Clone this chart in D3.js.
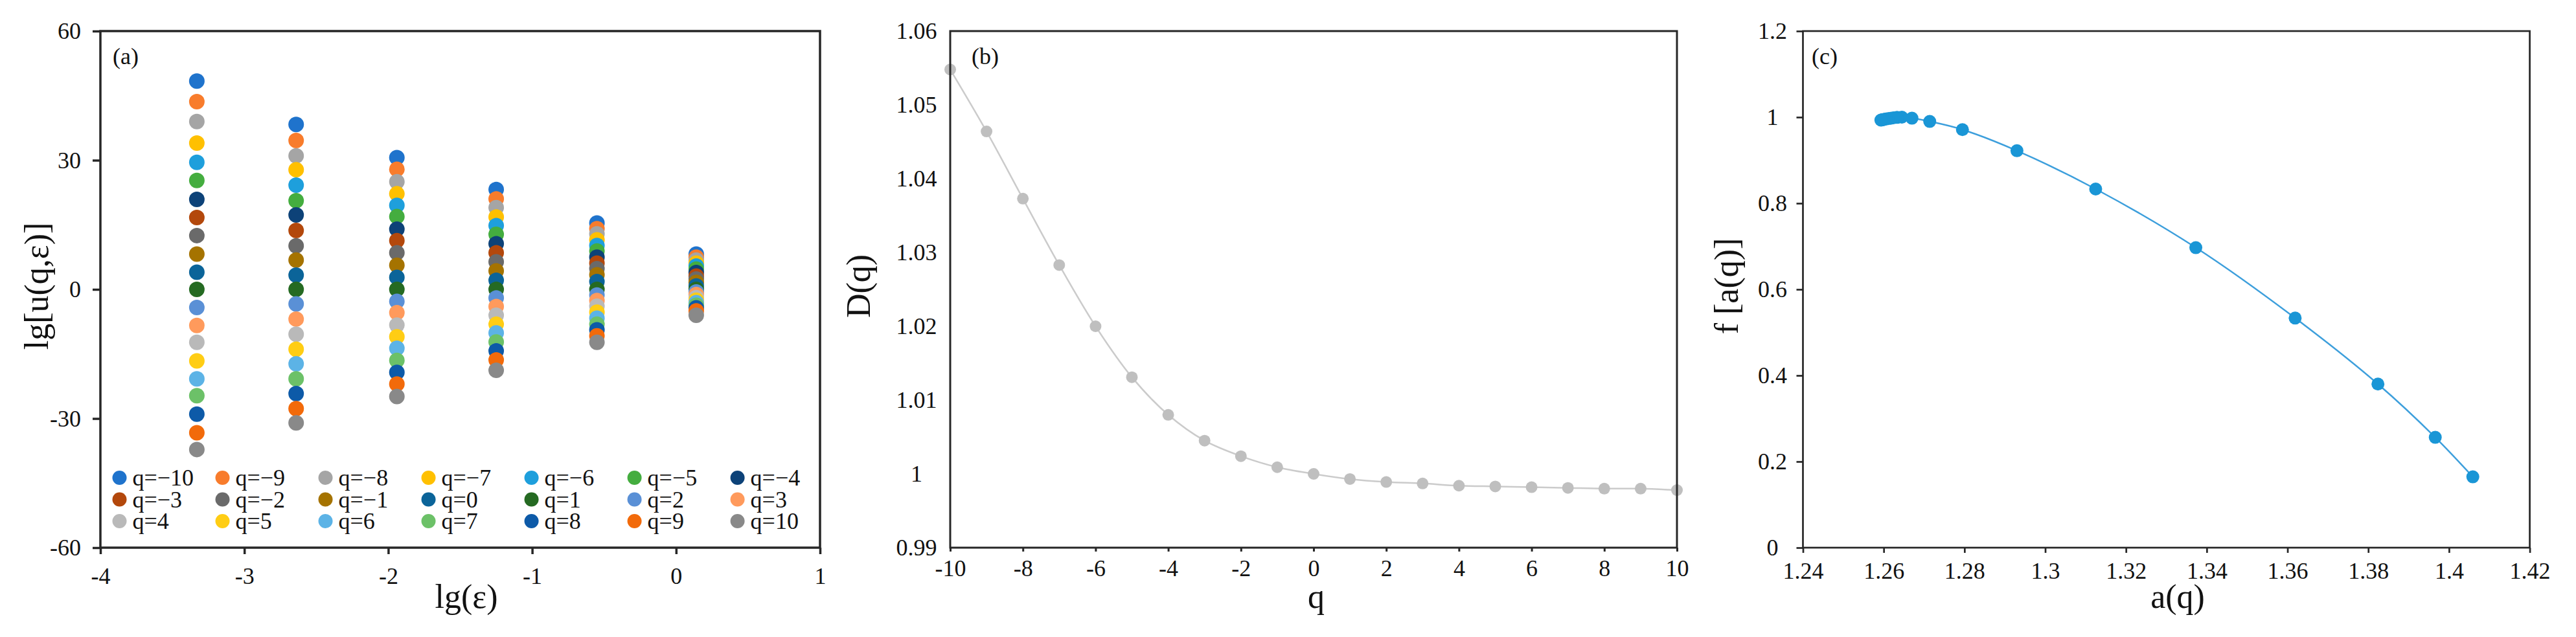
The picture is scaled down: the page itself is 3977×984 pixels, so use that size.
<!DOCTYPE html>
<html>
<head>
<meta charset="utf-8">
<script src="https://cdn.jsdelivr.net/npm/d3@7"></script>
<style>
  html, body { margin: 0; padding: 0; background: #fff; }
  svg { display: block; font-family: "Liberation Serif", "Times New Roman", serif; }
</style>
</head>
<body>
<svg id="chart" width="3977" height="984"></svg>
<script>
// ---- data ----
const qList = [-10, -9, -8, -7, -6, -5, -4, -3, -2, -1, 0, 1, 2, 3, 4, 5, 6, 7, 8, 9, 10];

// panel (a): lg(eps) columns and lg[u(q,eps)] for q = -10..10 in each column
const lgEps = [-3.33, -2.64, -1.94, -1.25, -0.55, 0.14];
const lgMu = [
  [48.4, 43.6, 39.0, 34.0, 29.5, 25.3, 20.9, 16.7, 12.5, 8.2, 4.0, 0, -4.2, -8.4, -12.3, -16.6, -20.8, -24.7, -29.0, -33.3, -37.2],
  [38.3, 34.6, 31.0, 27.8, 24.2, 20.6, 17.3, 13.7, 10.1, 6.8, 3.3, 0, -3.4, -6.9, -10.4, -13.9, -17.3, -20.8, -24.2, -27.7, -31.0],
  [30.6, 27.9, 25.0, 22.2, 19.5, 16.9, 14.0, 11.3, 8.5, 5.6, 2.8, 0, -2.8, -5.4, -8.3, -11.0, -13.7, -16.5, -19.3, -22.0, -24.9],
  [23.2, 21.0, 19.0, 16.8, 14.8, 12.8, 10.6, 8.5, 6.4, 4.3, 2.1, 0, -2.0, -4.0, -6.0, -8.1, -10.1, -12.2, -14.3, -16.4, -18.8],
  [15.4, 14.1, 12.9, 11.5, 10.2, 8.9, 7.5, 6.1, 4.8, 3.4, 1.8, 0, -1.3, -2.6, -3.9, -5.3, -6.7, -8.1, -9.4, -10.8, -12.3],
  [8.2, 7.5, 6.8, 6.1, 5.4, 4.7, 3.9, 3.1, 2.4, 1.6, 0.8, 0, -0.6, -1.2, -1.9, -2.5, -3.1, -3.7, -4.3, -5.0, -6.0]
];
const qColors = [
  "#1f73cc", "#f87c2c", "#a5a5a5", "#ffc000", "#1e9fdc", "#44ad3f", "#0d4278",
  "#b3480c", "#6a6a6a", "#a57300", "#0b6499", "#256a22", "#5a90d6", "#ff9a5c",
  "#b9b9b9", "#ffcd14", "#5cb3e6", "#6cc168", "#0d5aa8", "#f26a0a", "#898989"
];

// panel (b): D(q)
const dq = [1.0548, 1.0464, 1.0373, 1.0283, 1.0200, 1.0131, 1.0080, 1.0045, 1.0024, 1.0009, 1.0000,
            0.9993, 0.9989, 0.9987, 0.9984, 0.9983, 0.9982, 0.9981, 0.9980, 0.9980, 0.9978];

// panel (c): a(q) and f[a(q)]
const alphaQ = [1.4059, 1.3966, 1.3824, 1.3619, 1.3373, 1.3125, 1.2930, 1.2795, 1.2714, 1.2670, 1.2645,
                1.2633, 1.2624, 1.2617, 1.2611, 1.2606, 1.2602, 1.2599, 1.2597, 1.2595, 1.2593];
const fAlpha = [0.1645, 0.2563, 0.3801, 0.5333, 0.6969, 0.8331, 0.9220, 0.9711, 0.9901, 0.9976, 1.0000,
                0.9995, 0.9985, 0.9975, 0.9966, 0.9958, 0.9951, 0.9945, 0.9940, 0.9936, 0.9932];

// ticks
const ticksAx = [-4, -3, -2, -1, 0, 1];
const ticksAy = [-60, -30, 0, 30, 60];
const ticksBx = [-10, -8, -6, -4, -2, 0, 2, 4, 6, 8, 10];
const ticksBy = [0.99, 1, 1.01, 1.02, 1.03, 1.04, 1.05, 1.06];
const ticksCx = [1.24, 1.26, 1.28, 1.3, 1.32, 1.34, 1.36, 1.38, 1.4, 1.42];
const ticksCy = [0, 0.2, 0.4, 0.6, 0.8, 1, 1.2];

// ---- drawing ----
const svg = d3.select("#chart");
const INK = "#262626";
const TOP = 48, BOTTOM = 846;
const fmt = (d) => String(+d.toFixed(2));

svg.append("rect").attr("width", 3977).attr("height", 984).attr("fill", "#fff");

function frame(g, x, y, sw) {
  const [x0, x1] = x.range();
  g.append("rect")
    .attr("x", x0).attr("y", TOP)
    .attr("width", x1 - x0).attr("height", BOTTOM - TOP)
    .attr("fill", "none").attr("stroke", INK).attr("stroke-width", sw);
}

function axes(g, x, y, o) {
  const gx = g.append("g")
    .attr("transform", `translate(0,${BOTTOM})`)
    .call(d3.axisBottom(x).tickValues(o.xt).tickFormat(fmt)
      .tickSize(o.xTick).tickPadding(o.xPad).tickSizeOuter(0));
  const gy = g.append("g")
    .attr("transform", `translate(${x.range()[0]},0)`)
    .call(d3.axisLeft(y).tickValues(o.yt).tickFormat(fmt)
      .tickSize(o.yTick).tickPadding(o.yPad).tickSizeOuter(0));
  [gx, gy].forEach((a) => {
    a.attr("font-family", null).attr("font-size", 36);
    a.select(".domain").remove();
    a.selectAll("line").attr("stroke", INK).attr("stroke-width", o.sw);
    a.selectAll("text").attr("fill", "#111");
  });
  if (o.yAnchor === "middle") {
    gy.selectAll("text").attr("text-anchor", "middle")
      .attr("x", -(o.yTick + o.yPad + o.yHalf));
  }
}

function titles(g, o) {
  g.append("text")
    .attr("x", o.xtX).attr("y", 939)
    .attr("text-anchor", "middle").attr("font-size", 52).attr("fill", "#111")
    .text(o.xTitle);
  g.append("text")
    .attr("transform", `translate(${o.ytX},442) rotate(-90)`)
    .attr("text-anchor", "middle").attr("font-size", 52).attr("fill", "#111")
    .text(o.yTitle);
  g.append("text")
    .attr("x", o.tagX).attr("y", 99)
    .attr("font-size", 36).attr("fill", "#111")
    .text(o.tag);
}

// Panel (a)
const xA = d3.scaleLinear().domain([-4, 1]).range([155, 1266]);
const yA = d3.scaleLinear().domain([-60, 60]).range([BOTTOM, TOP]);
const gA = svg.append("g");

lgEps.forEach((e, c) => {
  gA.append("g").selectAll("circle")
    .data(lgMu[c])
    .join("circle")
    .attr("cx", xA(e))
    .attr("cy", (d) => yA(d))
    .attr("r", 12)
    .attr("fill", (_, i) => qColors[i]);
});

const legX = d3.scaleLinear().domain([0, 6]).range([184.5, 1138.6]);
const legY = d3.scaleLinear().domain([0, 2]).range([738, 805]);
const leg = gA.append("g").selectAll("g")
  .data(qList)
  .join("g")
  .attr("transform", (_, i) => `translate(${legX(i % 7)},${legY(Math.floor(i / 7))})`);
leg.append("circle").attr("r", 11).attr("fill", (_, i) => qColors[i]);
leg.append("text")
  .attr("x", 20).attr("y", 12)
  .attr("font-size", 36).attr("fill", "#111")
  .text((q) => "q=" + (q < 0 ? "\u2212" + -q : q));

frame(gA, xA, yA, 3.5);
axes(gA, xA, yA, { xt: ticksAx, yt: ticksAy, xTick: 10, xPad: 20, yTick: 12, yPad: 18, sw: 3.5 });
titles(gA, { xTitle: "lg(\u03b5)", xtX: 720, yTitle: "lg[u(q,\u03b5)]", ytX: 74, tag: "(a)", tagX: 174 });

// Panel (b)
const xB = d3.scaleLinear().domain([-10, 10]).range([1467, 2589]);
const yB = d3.scaleLinear().domain([0.99, 1.06]).range([BOTTOM, TOP]);
const gB = svg.append("g");

gB.append("path")
  .datum(qList)
  .attr("fill", "none").attr("stroke", "#cbcbcb").attr("stroke-width", 2.5)
  .attr("d", d3.line().x((q) => xB(q)).y((_, i) => yB(dq[i])).curve(d3.curveCatmullRom));
gB.append("g").selectAll("circle")
  .data(qList)
  .join("circle")
  .attr("cx", (q) => xB(q)).attr("cy", (_, i) => yB(dq[i]))
  .attr("r", 9).attr("fill", "#bfbfbf");

frame(gB, xB, yB, 3);
axes(gB, xB, yB, { xt: ticksBx, yt: ticksBy, xTick: 6, xPad: 12, yTick: 0, yPad: 14, sw: 3,
  yAnchor: "middle", yHalf: 38 });
titles(gB, { xTitle: "q", xtX: 2032, yTitle: "D(q)", ytX: 1343, tag: "(b)", tagX: 1500 });

// Panel (c)
const xC = d3.scaleLinear().domain([1.24, 1.42]).range([2783.5, 3905.6]);
const yC = d3.scaleLinear().domain([0, 1.2]).range([BOTTOM, TOP]);
const gC = svg.append("g");

gC.append("path")
  .datum(qList)
  .attr("fill", "none").attr("stroke", "#3d9fdc").attr("stroke-width", 2.5)
  .attr("d", d3.line().x((_, i) => xC(alphaQ[i])).y((_, i) => yC(fAlpha[i])).curve(d3.curveCatmullRom));
gC.append("g").selectAll("circle")
  .data(qList)
  .join("circle")
  .attr("cx", (_, i) => xC(alphaQ[i])).attr("cy", (_, i) => yC(fAlpha[i]))
  .attr("r", 10).attr("fill", "#1a96d6");

frame(gC, xC, yC, 2.7);
axes(gC, xC, yC, { xt: ticksCx, yt: ticksCy, xTick: 8, xPad: 14, yTick: 10, yPad: 10, sw: 2.7,
  yAnchor: "middle", yHalf: 27 });
titles(gC, { xTitle: "a(q)", xtX: 3362, yTitle: "f [a(q)]", ytX: 2683, tag: "(c)", tagX: 2797 });
</script>
</body>
</html>
